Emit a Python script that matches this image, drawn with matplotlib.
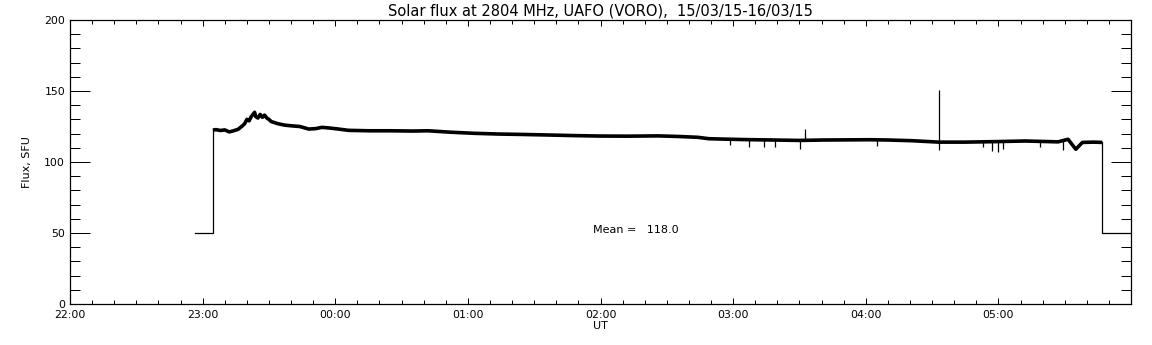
import matplotlib
matplotlib.use("Agg")
import matplotlib.pyplot as plt
from matplotlib.ticker import MultipleLocator, FixedLocator

# time in minutes after 22:00 UT, flux in SFU
t_flux = [64.6, 66, 68, 70, 72, 74, 76, 78, 79, 80, 81, 82, 83.5, 84, 85, 86, 87,
          88, 89, 90, 91, 94, 97, 100, 104, 108, 111, 114, 117, 121, 126, 135,
          145, 155, 162, 172, 183, 194, 205, 217, 228, 239, 252, 266, 275, 284,
          289, 294, 305, 318, 330, 341, 352, 362, 370, 381, 393, 405, 420, 432,
          447, 451.5, 455, 458, 463, 467]
flux = [122.5, 122.8, 122.2, 122.6, 121.2, 122, 123, 125.5, 127, 130, 129, 132,
        135, 132, 131, 133.5, 131.5, 133, 131, 130, 128.5, 127, 126, 125.5, 125,
        123.2, 123.5, 124.4, 124, 123.3, 122.3, 122, 122, 121.8, 122, 121, 120.2,
        119.7, 119.4, 119, 118.6, 118.3, 118.2, 118.4, 118, 117.4, 116.4, 116.2,
        115.8, 115.5, 115.2, 115.5, 115.6, 115.7, 115.5, 115, 114, 114, 114.4,
        114.8, 114.2, 116, 109, 113.8, 114, 113.8]

# receiver off before and after the observation
off_start = 56.5
off_end = 480
off_flux = 50

# short glitches: time, low, high
glitch_t = [298.7, 307, 314, 319, 330.4, 332.6, 365, 393.3, 413, 417, 420, 422,
            438.7, 449]
glitch_lo = [112, 110.3, 110.8, 110.6, 109, 115, 111.3, 108.5, 110.3, 108,
             107.3, 108.9, 110.8, 108.5]
glitch_hi = [116, 116, 116, 116, 116, 123, 116, 150.7, 115, 115, 115, 115,
             115, 115]

hour_labels = ["22:00", "23:00", "00:00", "01:00", "02:00", "03:00", "04:00", "05:00"]
mean_flux = 118.0

fig = plt.figure(figsize=(11.52, 3.45), dpi=100)
ax = fig.add_axes([0.0608, 0.1188, 0.921, 0.8232])

# thin steps at the ends
ax.plot([off_start, t_flux[0], t_flux[0]], [off_flux, off_flux, flux[0]],
        color="black", lw=0.9)
ax.plot([t_flux[-1], t_flux[-1], off_end], [flux[-1], off_flux, off_flux],
        color="black", lw=0.9)
# noisy trace drawn as a thick band
ax.plot(t_flux, flux, color="black", lw=2.6, solid_capstyle="butt")
ax.vlines(glitch_t, glitch_lo, glitch_hi, color="black", lw=0.9)
ax.text(236.6, 50, "Mean =   %.1f" % mean_flux, fontsize=8, va="baseline")

ax.set_xlim(0, 480)
ax.set_ylim(0, 200)
ax.xaxis.set_major_locator(FixedLocator(range(0, 480, 60)))
ax.set_xticklabels(hour_labels)
ax.xaxis.set_minor_locator(MultipleLocator(10))
ax.yaxis.set_major_locator(MultipleLocator(50))
ax.yaxis.set_minor_locator(MultipleLocator(10))

ax.tick_params(axis="both", which="both", direction="in", top=True, right=True,
               width=0.72, labelsize=7.8, color="black")
ax.tick_params(axis="y", which="major", length=14.4, pad=3.6)
ax.tick_params(axis="y", which="minor", length=7.2)
ax.tick_params(axis="x", which="major", length=4.3, pad=4)
ax.tick_params(axis="x", which="minor", length=2.6)
for s in ax.spines.values():
    s.set_linewidth(0.9)

ax.set_title("Solar flux at 2804 MHz, UAFO (VORO),  15/03/15-16/03/15",
             fontsize=10.5, pad=3)
ax.set_xlabel("UT", fontsize=8, labelpad=1)
ax.set_ylabel("Flux, SFU", fontsize=8, labelpad=9)

fig.savefig("out.png", dpi=100)
